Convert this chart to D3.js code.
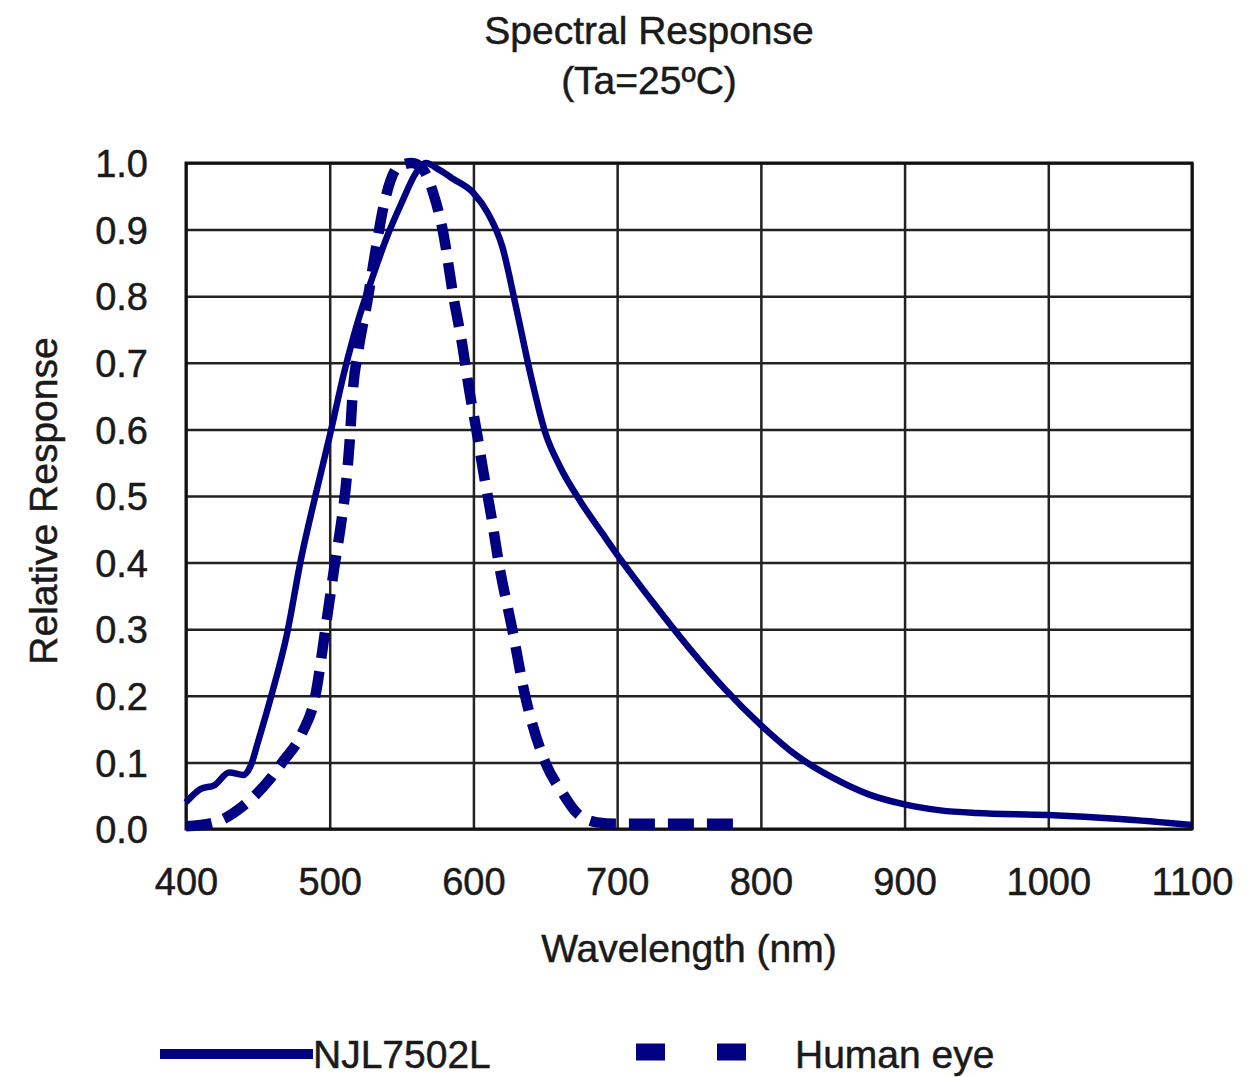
<!DOCTYPE html>
<html><head><meta charset="utf-8">
<script src="https://cdn.jsdelivr.net/npm/d3@7"></script>
<style>body{margin:0;background:#fff}svg{display:block}text{font-family:"Liberation Sans",Arial,sans-serif;fill:#1a1a1a;stroke:#1a1a1a;stroke-width:0.5px}</style>
</head><body><svg id="c" width="1256" height="1077"></svg>
<script>
const titleLines = ["Spectral Response", "(Ta=25ºC)"];
const xLabel = "Wavelength (nm)";
const yLabel = "Relative Response";
const xTicks = [400,500,600,700,800,900,1000,1100];
const yTicks = [0,0.1,0.2,0.3,0.4,0.5,0.6,0.7,0.8,0.9,1.0];
const seriesNames = ["NJL7502L", "Human eye"];

const njlWl  = [400,410,420,430,440,445,450,460,470,480,490,500,510,520,530,540,550,560,567,576,586,600,610,620,630,640,650,660,675,690,700,725,750,775,800,825,850,875,900,925,950,1000,1050,1100];
const njlVal = [0.04,0.06,0.066,0.085,0.081,0.095,0.13,0.205,0.29,0.405,0.5,0.59,0.685,0.765,0.83,0.89,0.94,0.985,1.0,0.99,0.976,0.955,0.925,0.875,0.78,0.68,0.595,0.545,0.49,0.443,0.412,0.34,0.272,0.21,0.156,0.11,0.077,0.052,0.037,0.028,0.024,0.021,0.015,0.006];

const eyeWl  = [400,420,440,458,467,481,490,497,503,508,511,514,516,520,526,532,538,548,557,565,572,579,586,592,597,602,607,612,618,627,636,650,662,672,686,700,783];
const eyeVal = [0.004,0.01,0.035,0.074,0.1,0.145,0.2,0.3,0.39,0.46,0.51,0.585,0.655,0.72,0.79,0.87,0.94,0.995,1.0,0.99,0.955,0.895,0.8,0.73,0.66,0.6,0.535,0.475,0.395,0.3,0.2,0.1,0.054,0.024,0.01,0.008,0.008];

const navy = "#000080";
const svg = d3.select("#c");
const L=186,R=1192,T=163,B=829;
const x = d3.scaleLinear().domain([400,1100]).range([L,R]);
const y = d3.scaleLinear().domain([0,1]).range([B,T]);

svg.selectAll(".title").data(titleLines).join("text")
  .attr("x",649).attr("y",(d,i)=>44+i*50).attr("text-anchor","middle")
  .attr("font-size",39).text(d=>d);

const gx = svg.append("g").attr("transform",`translate(0,${B})`)
  .call(d3.axisBottom(x).tickValues(xTicks).tickSize(-(B-T)).tickFormat(d3.format("d")).tickPadding(39));
const gy = svg.append("g").attr("transform",`translate(${L},0)`)
  .call(d3.axisLeft(y).tickValues(yTicks).tickSize(-(R-L)).tickFormat(d3.format(".1f")).tickPadding(38));
[gx,gy].forEach(g=>{
  g.select(".domain").remove();
  g.selectAll(".tick line").attr("stroke","#222").attr("stroke-width",2.5);
  g.selectAll(".tick text").attr("font-size",38).attr("fill","#1a1a1a")
   .style("font-family",'"Liberation Sans",Arial,sans-serif');
});
gx.selectAll(".tick text").attr("dy","0.71em");
gy.selectAll(".tick text").attr("dy","0.36em");

svg.append("rect").attr("x",L).attr("y",T).attr("width",R-L).attr("height",B-T)
  .attr("fill","none").attr("stroke","#111").attr("stroke-width",3);

svg.append("text").attr("x",689).attr("y",962).attr("text-anchor","middle").attr("font-size",39).text(xLabel);
svg.append("text").attr("transform","translate(57,501) rotate(-90)").attr("text-anchor","middle").attr("font-size",39).text(yLabel);

const line = d3.line().x(d=>x(d[0])).y(d=>y(d[1])).curve(d3.curveMonotoneX);
const g = svg.append("g");
g.append("path").datum(eyeWl.map((w,i)=>[w,eyeVal[i]]))
  .attr("d",line).attr("fill","none").attr("stroke",navy).attr("stroke-width",10.5)
  .attr("stroke-dasharray","26,13");
g.append("path").datum(njlWl.map((w,i)=>[w,njlVal[i]]))
  .attr("d",line).attr("fill","none").attr("stroke",navy).attr("stroke-width",6.5);

const lg = svg.append("g");
lg.append("line").attr("x1",160).attr("x2",313).attr("y1",1054).attr("y2",1054).attr("stroke",navy).attr("stroke-width",10);
lg.append("text").attr("x",313).attr("y",1068).attr("font-size",39).text(seriesNames[0]);
lg.append("line").attr("x1",636).attr("x2",746).attr("y1",1052).attr("y2",1052).attr("stroke",navy).attr("stroke-width",17).attr("stroke-dasharray","29,52");
lg.append("text").attr("x",795).attr("y",1068).attr("font-size",39).text(seriesNames[1]);
</script></body></html>
